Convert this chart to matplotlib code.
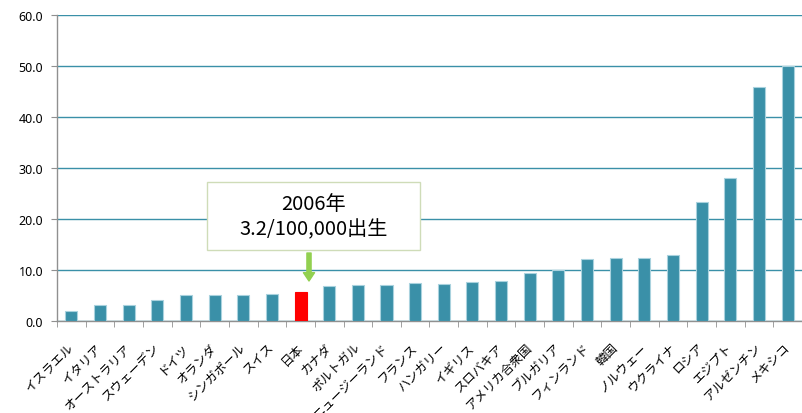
import matplotlib.pyplot as plt
from matplotlib.patches import Rectangle
from matplotlib.transforms import ScaledTranslation

plt.rcParams['font.family'] = ['Noto Sans CJK JP', 'DejaVu Sans']

# 国別データ（出生10万あたり）
countries = ['イスラエル', 'イタリア', 'オーストラリア', 'スウェーデン', 'ドイツ', 'オランダ',
             'シンガポール', 'スイス', '日本', 'カナダ', 'ポルトガル', 'ニュージーランド',
             'フランス', 'ハンガリー', 'イギリス', 'スロバキア', 'アメリカ合衆国', 'ブルガリア',
             'フィンランド', '韓国', 'ノルウェー', 'ウクライナ', 'ロシア', 'エジプト',
             'アルゼンチン', 'メキシコ']
rates = [2.0, 3.1, 3.1, 4.1, 5.1, 5.1, 5.2, 5.4, 5.7, 6.8, 7.0, 7.0, 7.4, 7.3,
         7.6, 7.8, 9.4, 10.0, 12.1, 12.3, 12.3, 13.0, 23.4, 28.0, 45.9, 50.1]
yticks = [0, 10, 20, 30, 40, 50, 60]
highlight = '日本'
note = '2006年\n3.2/100,000出生'

teal = '#3a90a8'
colors = ['#ff0000' if c == highlight else teal for c in countries]
edges = ['#ff0000' if c == highlight else '#a9d2de' for c in countries]

fig = plt.figure(figsize=(8.02, 4.14), dpi=100)
ax = fig.add_axes([0.071, 0.222, 0.929, 0.739])

x = list(range(len(countries)))
ax.bar(x, rates, width=0.42, color=colors, edgecolor=edges, linewidth=0.8, zorder=3)

ax.set_xlim(-0.5, len(countries) - 0.5)
ax.set_ylim(0, 60)
ax.set_yticks(yticks)
ax.set_yticklabels([f'{v:.1f}' for v in yticks], family='Noto Sans', fontsize=9)
ax.yaxis.grid(True, color=teal, linewidth=1)
ax.set_axisbelow(True)

# カテゴリ境界の目盛りとラベル
ax.set_xticks(x)
ax.set_xticklabels(countries, rotation=45, ha='right', va='top', fontsize=9)
ax.set_xticks([i - 0.5 for i in range(len(countries) + 1)], minor=True)
ax.tick_params(axis='x', which='major', length=0, pad=14)
ax.tick_params(axis='x', which='minor', length=4, color='#909090', direction='out')
ax.tick_params(axis='y', length=4, color='#909090', direction='out', pad=6)
shift = ScaledTranslation(0.05, 0, fig.dpi_scale_trans)
for lbl in ax.get_xticklabels():
    lbl.set_transform(lbl.get_transform() + shift)

for s in ['top', 'right']:
    ax.spines[s].set_visible(False)
for s in ['left', 'bottom']:
    ax.spines[s].set_color('#909090')
    ax.spines[s].set_linewidth(1)

# 注記ボックスと矢印
box = Rectangle((0.258, 0.394), 0.266, 0.164, transform=fig.transFigure,
                facecolor='white', edgecolor='#cfdcb8', linewidth=1, zorder=5)
fig.patches.append(box)
fig.text(0.391, 0.476, note, ha='center', va='center', fontsize=14.5,
         linespacing=1.3, zorder=6)
ax.annotate('', xy=(309 / 802, 1 - 282 / 414), xytext=(309 / 802, 1 - 254 / 414),
            xycoords='figure fraction', textcoords='figure fraction',
            arrowprops=dict(facecolor='#92d050', edgecolor='#92d050', width=3,
                            headwidth=8, headlength=6, shrink=0))

fig.savefig('out.png', dpi=100)
